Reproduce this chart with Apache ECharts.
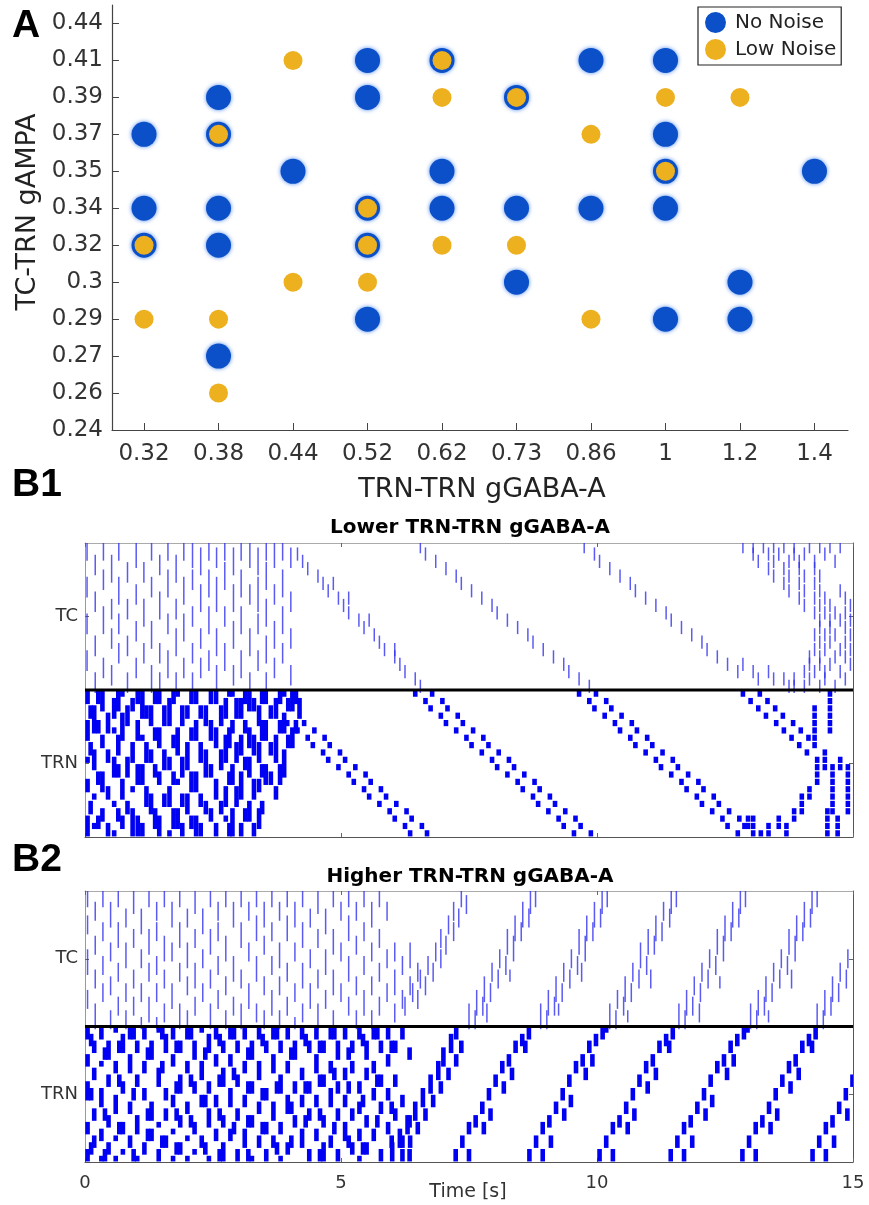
<!DOCTYPE html>
<html><head><meta charset="utf-8">
<script src="https://cdn.jsdelivr.net/npm/echarts@6/dist/echarts.min.js"></script>
<style>html,body{margin:0;padding:0;background:#fff;}#c{width:869px;height:1205px;}</style>
</head><body><div id="c"></div>
<script>
// ---------------- Panel A data ----------------
const gabaTicks = ['0.32','0.38','0.44','0.52','0.62','0.73','0.86','1','1.2','1.4'];
const ampaTicks = ['0.24','0.26','0.27','0.29','0.3','0.32','0.34','0.35','0.37','0.39','0.41','0.44'];
const noNoise = [
 ['0.32','0.37'],['0.32','0.34'],['0.32','0.32'],
 ['0.38','0.39'],['0.38','0.37'],['0.38','0.34'],['0.38','0.32'],['0.38','0.27'],
 ['0.44','0.35'],
 ['0.52','0.41'],['0.52','0.39'],['0.52','0.34'],['0.52','0.32'],['0.52','0.29'],
 ['0.62','0.41'],['0.62','0.35'],['0.62','0.34'],
 ['0.73','0.39'],['0.73','0.34'],['0.73','0.3'],
 ['0.86','0.41'],['0.86','0.34'],
 ['1','0.41'],['1','0.37'],['1','0.35'],['1','0.34'],['1','0.29'],
 ['1.2','0.3'],['1.2','0.29'],
 ['1.4','0.35']
];
const lowNoise = [
 ['0.44','0.41'],['0.62','0.41'],
 ['0.62','0.39'],['0.73','0.39'],['1','0.39'],['1.2','0.39'],
 ['0.38','0.37'],['0.86','0.37'],
 ['1','0.35'],
 ['0.52','0.34'],
 ['0.32','0.32'],['0.52','0.32'],['0.62','0.32'],['0.73','0.32'],
 ['0.44','0.3'],['0.52','0.3'],
 ['0.32','0.29'],['0.38','0.29'],['0.86','0.29'],
 ['0.38','0.26']
];
// ---------------- Raster data (time s, rows counted from top of each population) ----------------
const timeTicks = [0, 5, 10, 15];
const popTicks = [10, 30];
// B1 TC: dense columns [t, rowTop, rowBottom, ...]
const b1TcDense = [
 [0.04,0,1,5,6,10,11,15,16],[0.2,2,3,7,8,13,14,18,19],[0.36,0,1,4,5,9,11,16,17],[0.52,2,4,8,9,12,13,17,18],
 [0.66,0,1,5,7,10,11,14,15],[0.83,3,4,8,9,13,14,18,19],[1.0,0,2,6,7,11,12,16,17],[1.15,3,4,8,10,14,15],
 [1.3,0,1,5,6,11,13,17,19],[1.46,2,3,7,9,14,15,18,19],[1.62,0,1,4,6,10,11,15,17],[1.78,2,4,8,9,12,14,18,19],
 [1.93,0,1,5,7,10,12,16,17],[2.1,0,2,4,5,9,10,14,15,18,19],[2.26,1,3,6,8,12,13,16,17],[2.42,0,1,4,6,9,11,15,16],
 [2.57,1,2,5,8,12,14,17,19],[2.73,0,1,3,5,9,10,14,16],[2.9,1,3,6,8,11,13,17,18],[3.05,0,1,4,6,9,11,15,17],
 [3.22,0,2,6,7,12,14,18,19],[3.38,1,3,5,8,10,11,15,16],[3.54,0,1,3,5,8,10,13,15,18,19],[3.7,0,2,6,7,11,13,16,17],
 [3.86,0,1,4,6,9,11,14,15],[4.02,1,2,7,8,12,13,17,18]
];
// B1 TC: spike times per row (row 0 = top)
const b1TcRows = [
 [6.55,9.75,12.85,13.05,13.25,13.45,13.65,13.85,14.15,14.35,14.55,14.75],
 [4.15,6.65,9.95,13.05,13.35,13.55,13.85,14.05,14.45],
 [4.25,6.85,10.05,13.15,13.45,13.75,13.95,14.25,14.65],
 [4.35,7.05,10.25,13.35,13.65,13.95,14.25],
 [4.55,7.25,10.45,13.45,13.75,14.05,14.35],
 [4.65,4.85,7.35,10.65,13.65,13.95,14.25],
 [4.75,7.55,10.75,13.75,14.05,14.35,14.75],
 [4.95,5.15,7.75,10.95,13.95,14.25,14.45,14.85],
 [5.05,7.95,11.15,14.05,14.35,14.55,14.95],
 [5.15,8.05,11.35,14.25,14.45,14.65,14.85],
 [5.35,5.55,8.25,11.45,14.35,14.55,14.75,14.95],
 [5.45,8.45,11.65,14.35,14.55,14.85],
 [5.65,8.65,11.85,14.25,14.45,14.65,14.95],
 [5.75,8.75,12.05,14.35,14.55,14.85],
 [5.85,6.05,8.95,12.15,14.25,14.45,14.75,14.95],
 [6.05,9.15,12.35,14.15,14.35,14.65,14.85],
 [6.15,9.35,12.55,12.85,14.15,14.35,14.55,14.95],
 [6.25,9.45,12.75,13.05,13.35,14.05,14.25,14.45,14.75],
 [6.45,9.65,13.15,13.45,13.65,13.85,14.15,14.45,14.85],
 [6.55,9.85,13.75,13.85,14.05,14.35,14.65]
];
// B1 TRN: dense columns
const b1TrnDense = [
 [0.05,0,1,4,6,9,9,12,13,17,19],[0.18,2,5,8,10,14,14,18,18],[0.34,0,2,6,7,11,13,16,17],[0.57,1,3,5,5,9,11,15,15,19,19],
 [0.73,0,0,3,6,12,14,17,18],[0.93,1,2,7,9,13,13,16,19],[1.12,0,3,6,6,10,12,18,19],[1.29,2,4,8,9,14,16],
 [1.45,0,1,5,7,11,12,17,19],[1.65,1,4,9,10,13,15,19,19],[1.81,0,0,5,8,12,12,16,18],[2.0,2,3,7,10,14,16],
 [2.17,0,1,4,6,11,13,17,19],[2.36,2,4,8,11,15,16],[2.56,0,1,5,7,12,14,18,19],[2.75,1,3,6,9,13,15,17,17],
 [2.88,0,0,4,5,10,12,16,19],[3.05,1,3,6,8,11,14,18,19],[3.21,0,2,5,7,9,11,15,17],[3.4,2,4,7,9,12,13,16,18],
 [3.53,0,1,4,6,10,12],[3.73,1,3,6,9,13,14],[3.89,0,0,3,5,8,11],[4.05,0,2,5,7],[4.19,1,3],
 [0.11,2,3,7,8,15,16],[0.26,0,1,4,5,11,12,17,18],[0.45,3,5,8,9,13,14,18,19],[0.65,0,2,6,8,10,11,16,17],
 [0.83,2,4,9,11,15,16],[1.03,0,1,4,6,10,12,17,19],[1.2,2,3,7,9,13,15],[1.37,0,1,5,6,10,11,16,18],
 [1.55,2,4,8,10,14,15],[1.73,0,1,6,7,11,12,16,18],[1.9,2,4,9,11,14,15,18,19],[2.08,0,1,5,6,11,13,17,18],
 [2.26,2,3,7,9,14,15,18,19],[2.46,0,1,4,6,10,11,16,17],[2.66,2,4,8,10,15,16],[2.82,0,0,5,7,11,12,18,19],
 [2.96,1,3,7,9,13,15],[3.13,0,1,4,5,9,10,16,17],[3.3,1,2,6,8,12,14,18,19],[3.46,0,1,4,6,10,11,15,16],
 [3.63,2,3,7,8,11,12],[3.81,0,1,4,5,10,12],[3.97,1,2,6,7],[4.12,0,1,4,5]
];
// B1 TRN: burst times per row (row 0 = top)
const b1TrnRows = [
 [6.45,6.78,9.65,9.98,12.85,13.18,14.55],
 [6.65,6.98,9.85,10.18,13.0,13.33,14.55],
 [6.75,7.08,9.95,10.28,13.15,13.48,14.25,14.55],
 [6.95,7.28,10.15,10.48,13.3,13.63,14.25,14.55],
 [3.95,4.28,7.05,7.38,10.35,10.68,13.5,13.83,14.25,14.55],
 [4.15,4.48,7.25,7.58,10.45,10.78,13.65,13.98,14.25,14.55],
 [4.35,4.68,7.45,7.78,10.65,10.98,13.8,14.13,14.25],
 [4.45,4.78,7.55,7.88,10.75,11.08,13.95,14.25],
 [4.65,4.98,7.75,8.08,10.95,11.28,14.1,14.45],
 [4.75,5.08,7.95,8.28,11.15,11.48,14.3,14.45,14.75],
 [4.95,5.28,8.05,8.38,11.25,11.58,14.3,14.45,14.6,14.75,14.9],
 [5.15,5.48,8.25,8.58,11.45,11.78,14.3,14.6,14.9],
 [5.25,5.58,8.45,8.78,11.65,11.98,14.3,14.6,14.9],
 [5.45,5.78,8.55,8.88,11.75,12.08,14.15,14.6,14.9],
 [5.55,5.88,8.75,9.08,11.95,12.28,14.0,14.15,14.6,14.9],
 [5.75,6.08,8.85,9.18,12.05,12.38,14.0,14.6,14.9],
 [5.95,6.28,9.05,9.38,12.25,12.58,13.85,14.0,14.5,14.6,14.9],
 [6.05,6.38,9.25,9.58,12.45,12.78,12.95,13.05,13.55,13.85,14.5,14.7],
 [6.25,6.58,9.35,9.68,12.55,12.88,12.95,13.05,13.35,13.55,13.7,14.5,14.7],
 [6.35,6.68,9.55,9.88,12.75,13.05,13.2,13.35,13.7,14.5,14.7]
];
// B2 TC: dense columns
const b2TcDense = [
 [0.05,0,1,4,5,9,11,15,16],[0.2,2,3,7,8,12,13,17,19],[0.35,0,1,5,6,10,11,14,15],[0.5,2,4,8,9,13,14,18,19],
 [0.65,0,1,5,7,11,12,16,17],[0.8,3,4,8,10,14,15,18,19],[0.95,0,2,6,7,12,13,16,17],[1.1,3,5,9,10,14,15,19,19],
 [1.25,0,1,6,8,11,12,16,18],[1.4,2,3,5,6,10,11,14,15,19,19],[1.55,0,1,7,9,12,13,17,18],[1.7,2,4,8,9,14,16],
 [1.85,0,1,5,7,11,12,17,19],[2.0,3,4,8,10,13,14,18,19],[2.15,0,2,6,7,11,13,16,17],[2.3,3,5,9,10,14,15],
 [2.45,0,1,6,8,12,13,17,19],[2.6,2,3,5,6,10,11,15,16],[2.75,0,1,7,9,13,14,18,19],[2.9,2,4,10,12,16,17],
 [3.05,0,1,5,7,12,13,17,19],[3.2,2,3,8,9,14,16],[3.35,0,1,4,6,10,12,17,18],[3.5,2,4,7,8,13,14,18,19],
 [3.65,0,1,5,6,10,11,15,17],[3.8,2,3,8,10,13,14,18,19],[3.95,0,1,4,6,11,12,16,17],[4.1,2,4,8,9,14,15,19,19],
 [4.25,0,1,5,7,11,13,17,18],[4.4,3,4,9,10,14,16],[4.55,0,2,6,7,12,13,17,19],[4.7,3,5,9,11,15,16],
 [4.85,0,1,6,8,12,14,18,19],[5.0,2,3,8,9,14,15],[5.15,0,1,4,6,10,12,16,17],[5.3,2,3,7,8,13,14,18,19],
 [5.45,0,1,5,6,10,11,15,17],[5.6,2,4,8,9,13,14,18,19],[5.75,0,1,6,7,11,12,16,17],[5.9,2,3,9,10,14,15],
 [6.05,8,9,12,14,17,18],[6.2,10,11,15,16],[6.35,8,10,13,14],[6.5,11,12],
 [6.25,16,17],[6.4,14,15],[6.55,12,13],[6.7,10,11],[6.85,8,9],[6.95,6,7],[7.1,4,5],[7.2,2,3],[7.35,0,1],
 [6.5,15,16],[6.65,13,14],[6.8,11,12],[6.95,9,10],[7.05,7,8],[7.2,5,6],[7.3,3,4],[7.45,1,2]
];
// B2 TC: travelling waves [t, rowTop, rowBottom]
const b2TcWaves = [
 [7.5,17,19],[7.65,15,17],[7.8,13,15],[7.95,11,12],[8.1,9,10],[8.25,6,8],[8.4,4,6],[8.55,2,4],[8.7,0,2],
 [7.62,18,19],[7.77,16,17],[7.92,14,15],[8.07,12,13],[8.22,10,11],[8.37,7,9],[8.52,5,6],[8.67,3,4],[8.8,0,1],
 [8.9,17,19],[9.05,15,17],[9.2,13,15],[9.35,11,12],[9.5,9,10],[9.65,6,8],[9.8,4,6],[9.95,2,4],[10.1,0,2],
 [9.02,18,19],[9.17,16,17],[9.32,14,15],[9.47,12,13],[9.62,10,11],[9.77,7,9],[9.92,5,6],[10.07,3,4],[10.2,0,1],
 [10.25,17,19],[10.4,15,16],[10.55,13,15],[10.7,11,12],[10.85,8,10],[11.0,6,8],[11.15,4,6],[11.3,2,3],[11.45,0,2],
 [10.37,18,19],[10.52,16,17],[10.67,14,15],[10.82,12,13],[10.97,10,11],[11.12,7,8],[11.27,5,6],[11.42,3,4],[11.55,0,1],
 [11.6,17,19],[11.75,15,17],[11.9,13,14],[12.05,11,12],[12.2,9,10],[12.35,6,8],[12.5,4,6],[12.65,2,4],[12.8,0,2],
 [11.72,18,19],[11.87,16,17],[12.02,14,15],[12.17,12,13],[12.32,10,11],[12.47,7,9],[12.62,5,6],[12.77,3,4],[12.9,0,1],
 [13.0,17,19],[13.15,15,17],[13.3,13,15],[13.45,11,12],[13.6,9,10],[13.75,6,8],[13.9,4,6],[14.05,2,4],[14.2,0,2],
 [13.12,18,19],[13.27,16,17],[13.42,14,15],[13.57,12,13],[13.72,10,11],[13.87,7,9],[14.02,5,6],[14.17,3,4],[14.3,0,1],
 [14.3,17,19],[14.45,15,17],[14.6,13,15],[14.75,11,12],[14.9,9,10],[14.42,18,19],[14.57,16,17],[14.72,14,15],[14.87,12,13],
 [7.85,17,18],[8.3,12,12],[9.25,17,17],[9.7,11,12],[10.6,18,18],[11.05,12,13],[12.0,17,18],[12.4,13,13],[13.35,18,18],[13.8,12,13]
];
// B2 TRN: dense columns
const b2TrnDense = [
 [0.05,0,1,4,5,8,10,14,15,18,19],[0.18,2,3,6,7,12,13,16,17],[0.32,0,1,5,5,9,11,15,16,19,19],[0.46,2,4,7,8,13,14,17,18],
 [0.6,0,0,5,6,10,12,16,16,19,19],[0.74,1,3,8,9,14,15,18,18],[0.88,0,1,4,6,11,12,16,17],[1.02,2,3,7,8,13,15,19,19],
 [1.16,0,1,5,6,9,10,17,18],[1.3,2,4,11,13,15,16],[1.44,0,0,6,8,14,14,18,19],[1.58,1,3,9,10,12,13,16,17],
 [1.72,0,1,4,5,10,11,15,15,19,19],[1.86,2,3,7,9,13,14,17,18],[2.0,0,1,5,6,11,12,16,16,19,19],[2.14,2,4,8,9,14,15,18,18],
 [2.28,0,0,5,7,10,11,16,17],[2.42,1,3,8,9,12,14,19,19],[2.56,0,1,4,5,10,11,15,16],[2.7,2,3,6,8,13,14,17,19],
 [2.84,0,1,4,5,9,11,15,16],[2.98,2,3,7,8,12,13,18,19],[3.12,0,1,5,6,10,11,15,17],[3.26,2,4,8,9,13,14,19,19],
 [3.4,0,1,5,7,11,12,16,17],[3.54,2,3,9,10,14,15,18,19],[3.68,0,1,4,6,11,13,16,17],[3.82,2,3,7,9,14,15,19,19],
 [3.96,0,1,5,6,10,12,17,18],[4.1,2,4,8,9,13,14],[4.24,0,1,6,7,10,11,15,17],[4.38,2,3,8,9,12,13,18,19],
 [4.52,0,1,4,6,10,11,15,16],[4.66,2,3,7,8,13,14,17,19],[4.8,0,1,5,6,9,11,16,17],[4.94,2,4,8,9,12,13,18,19],
 [5.08,0,1,6,7,10,11,14,16],[5.22,2,3,5,6,12,13,17,18],[5.36,0,1,8,9,11,12,15,16,19,19],[5.5,2,4,6,7,13,14,17,18],
 [5.64,0,1,5,6,9,10,15,16],[5.78,2,3,7,8,11,12,18,19],[5.92,0,1,4,5,9,10,14,15],[6.06,2,3,7,8,12,13],
 [6.2,0,1,10,11,16,17],[6.34,3,4,13,14,18,19],
 [0.12,1,2,9,10,17,18],[0.39,3,4,12,13,18,19],[0.67,2,3,7,8,14,15],[0.95,0,1,9,10,18,19],[1.23,3,4,12,13,15,16],
 [1.51,0,1,5,6,16,17],[1.79,2,3,8,9,12,13,17,18],[2.07,0,1,7,8,13,14],[2.35,3,4,10,11,17,18],[2.63,1,2,7,8,12,13,18,19],
 [2.91,0,1,6,7,14,15],[3.19,3,4,8,9,13,14,18,19],[3.47,1,2,9,10,14,15],[3.75,0,1,8,9,17,18],[4.03,3,4,11,12,16,17],
 [4.31,1,2,8,9,13,14],[4.59,2,3,7,8,12,13,18,19],[4.87,0,1,6,7,14,15],[5.15,3,4,8,9,16,17],[5.43,1,2,10,11,17,18],
 [5.71,0,1,7,8,13,14],[5.99,2,3,11,12,16,17],
 [6.0,17,19],[6.15,15,17],[6.3,13,15],[6.45,11,13],[6.6,9,11],[6.75,7,9],[6.9,5,7],[7.0,3,5],[7.15,1,3],[7.25,0,1],
 [6.2,18,19],[6.35,16,17],[6.5,14,15],[6.65,12,13],[6.8,10,11],[6.95,8,9],[7.1,6,7],[7.25,4,5],[7.35,2,3]
];
// B2 TRN: travelling waves
const b2TrnWaves = [
 [7.24,18,19],[7.37,16,17],[7.5,14,15],[7.63,13,14],[7.76,11,12],[7.89,9,10],[8.02,7,8],[8.15,5,6],[8.28,4,5],[8.41,2,3],[8.54,1,2],[8.67,0,1],
 [7.5,18,19],[7.79,14,15],[7.92,12,13],[8.18,8,9],[8.34,6,7],[8.6,2,3],
 [8.68,18,19],[8.81,16,17],[8.94,14,15],[9.07,13,14],[9.2,11,12],[9.33,9,10],[9.46,7,8],[9.59,5,6],[9.72,4,5],[9.85,2,3],[9.98,1,2],[10.11,0,1],
 [8.94,18,19],[9.1,16,17],[9.36,12,13],[9.49,10,11],[9.78,6,7],[9.91,4,5],[10.18,0,0],
 [10.05,18,19],[10.18,16,17],[10.31,14,15],[10.44,13,14],[10.57,11,12],[10.7,9,10],[10.83,7,8],[10.96,5,6],[11.09,4,5],[11.22,2,3],[11.35,1,2],[11.48,0,1],
 [10.31,18,19],[10.6,14,15],[10.73,12,13],[10.99,8,9],[11.15,6,7],[11.41,2,3],
 [11.44,18,19],[11.57,16,17],[11.7,14,15],[11.83,13,14],[11.96,11,12],[12.09,9,10],[12.22,7,8],[12.35,5,6],[12.48,4,5],[12.61,2,3],[12.74,1,2],[12.87,0,1],
 [11.7,18,19],[11.86,16,17],[12.12,12,13],[12.25,10,11],[12.54,6,7],[12.67,4,5],[12.94,0,0],
 [12.84,18,19],[12.97,16,17],[13.1,14,15],[13.23,13,14],[13.36,11,12],[13.49,9,10],[13.62,7,8],[13.75,5,6],[13.88,4,5],[14.01,2,3],[14.14,1,2],[14.27,0,1],
 [13.1,18,19],[13.39,14,15],[13.52,12,13],[13.78,8,9],[13.94,6,7],[14.2,2,3],
 [14.21,18,19],[14.34,16,17],[14.47,14,15],[14.6,13,14],[14.73,11,12],[14.86,9,10],[14.99,7,8],
 [14.47,18,19],[14.63,16,17],[14.89,12,13]
];

// ---------------- helpers ----------------
function expandCols(cols){const out=[];cols.forEach(c=>{for(let i=1;i<c.length;i+=2)out.push([c[0],c[i],c[i+1]]);});return out;}
function expandRows(rows){const out=[];rows.forEach((ts,v)=>ts.forEach(t=>out.push([t,v,v])));return out;}
const F='DejaVu Sans';
function raster(axisIdx, events, base, kind){
  return {type:'custom',xAxisIndex:axisIdx,yAxisIndex:axisIdx,clip:true,silent:true,animation:false,z:3,
    data:events,
    renderItem:function(params,api){
      const t=api.value(0),a=api.value(1),b=api.value(2);
      const p1=api.coord([t,base-a]);const p2=api.coord([t,base-b-1]);
      const rowH=(p2[1]-p1[1])/(b-a+1);
      if(kind==='tc'){
        return {type:'rect',shape:{x:p1[0]-0.75,y:p1[1]-0.4*rowH,width:1.5,height:p2[1]-p1[1]+0.8*rowH},style:{fill:'rgba(50,50,240,0.8)'}};
      }
      return {type:'rect',shape:{x:p1[0]-2.3,y:p1[1]+0.08*rowH,width:4.6,height:p2[1]-p1[1]-0.16*rowH},style:{fill:'#0000f2'}};
    }};
}
function sepLine(axisIdx){return {type:'line',xAxisIndex:axisIdx,yAxisIndex:axisIdx,data:[[timeTicks[0],20],[timeTicks[3],20]],symbol:'none',silent:true,lineStyle:{color:'#000',width:3},z:6,animation:false};}
const gabaIdx=gabaTicks.map((_,i)=>i), ampaIdx=ampaTicks.map((_,i)=>i);
function bX(grid,pos,showLabels){
  return {gridIndex:grid,type:'value',min:timeTicks[0],max:timeTicks[3],interval:5,position:pos,
    axisLine:{show:true,onZero:false,lineStyle:{color:pos==='bottom'?'#555':'#aaa',width:1}},
    axisTick:{show:true,inside:true,length:4,lineStyle:{color:'#666'}},
    axisLabel:{show:showLabels,fontFamily:F,fontSize:18,color:'#333',margin:12},
    splitLine:{show:false}};
}
function bY(grid,pos){
  return {gridIndex:grid,type:'value',min:0,max:40,position:pos,
    axisLine:{show:true,onZero:false,lineStyle:{color:pos==='left'?'#999':'#555',width:1}},
    axisTick:{show:true,inside:true,length:4,customValues:popTicks,lineStyle:{color:'#666'}},
    axisLabel:{show:pos==='left',customValues:popTicks,formatter:v=>v===30?'TC':'TRN',fontFamily:F,fontSize:18,color:'#333',margin:7},
    splitLine:{show:false}};
}
const chart=echarts.init(document.getElementById('c'));
chart.setOption({
  animation:false,
  backgroundColor:'#fff',
  grid:[
    {left:112,top:5,width:736,height:425},
    {left:85,top:543,width:768,height:294},
    {left:85,top:891,width:768,height:271}
  ],
  legend:{data:['No Noise','Low Noise'],orient:'vertical',left:698,top:7,icon:'circle',itemWidth:21,itemHeight:21,itemGap:6,
    padding:[5,5,5,7],borderColor:'#222',borderWidth:1.2,backgroundColor:'#fff',
    textStyle:{fontFamily:F,fontSize:20,color:'#222',padding:[0,0,0,4]}},
  xAxis:[
    {gridIndex:0,type:'value',min:-0.43,max:9.45,
      axisLine:{show:true,onZero:false,lineStyle:{color:'#444',width:1.2}},
      axisTick:{show:true,inside:true,length:7,customValues:gabaIdx,lineStyle:{color:'#444'}},
      axisLabel:{customValues:gabaIdx,formatter:v=>gabaTicks[Math.round(v)],fontFamily:F,fontSize:23,color:'#333',margin:13},
      splitLine:{show:false}},
    bX(1,'bottom',false),bX(1,'top',false),bX(2,'bottom',true),bX(2,'top',false)
  ],
  yAxis:[
    {gridIndex:0,type:'value',min:0,max:11.5,
      axisLine:{show:true,onZero:false,lineStyle:{color:'#444',width:1.2}},
      axisTick:{show:true,inside:true,length:7,customValues:ampaIdx,lineStyle:{color:'#444'}},
      axisLabel:{customValues:ampaIdx,formatter:v=>ampaTicks[Math.round(v)],fontFamily:F,fontSize:23,color:'#333',margin:9},
      splitLine:{show:false}},
    bY(1,'left'),bY(1,'right'),bY(2,'left'),bY(2,'right')
  ],
  series:[
    {type:'scatter',name:'No Noise',xAxisIndex:0,yAxisIndex:0,symbolSize:25,z:2,
      data:noNoise.map(p=>[gabaTicks.indexOf(p[0]),ampaTicks.indexOf(p[1])]),
      itemStyle:{color:'#0b50c8',opacity:1,shadowBlur:4,shadowColor:'rgba(40,110,235,0.8)'}},
    {type:'scatter',name:'Low Noise',xAxisIndex:0,yAxisIndex:0,symbolSize:19,z:3,
      data:lowNoise.map(p=>[gabaTicks.indexOf(p[0]),ampaTicks.indexOf(p[1])]),
      itemStyle:{color:'#EDB120',opacity:1}},
    raster(1,expandCols(b1TcDense).concat(expandRows(b1TcRows)),40,'tc'),
    raster(1,expandCols(b1TrnDense).concat(expandRows(b1TrnRows)),20,'trn'),
    sepLine(1),
    raster(3,expandCols(b2TcDense).concat(b2TcWaves),40,'tc'),
    raster(3,expandCols(b2TrnDense).concat(b2TrnWaves),20,'trn'),
    sepLine(3)
  ],
  graphic:[
    {type:'text',left:12,top:7,style:{text:'A',fontFamily:'Liberation Sans',fontWeight:'bold',fontSize:39,fill:'#000'}},
    {type:'text',left:12,top:466,style:{text:'B1',fontFamily:'Liberation Sans',fontWeight:'bold',fontSize:39,fill:'#000'}},
    {type:'text',left:12,top:841,style:{text:'B2',fontFamily:'Liberation Sans',fontWeight:'bold',fontSize:39,fill:'#000'}},
    {type:'text',x:28,y:212,rotation:Math.PI/2,style:{text:'TC-TRN gAMPA',fontFamily:F,fontSize:27,fill:'#222',align:'center',verticalAlign:'middle',textAlign:'center',textVerticalAlign:'middle'}},
    {type:'text',x:482,y:490,style:{text:'TRN-TRN gGABA-A',fontFamily:F,fontSize:27,fill:'#222',align:'center',verticalAlign:'middle',textAlign:'center',textVerticalAlign:'middle'}},
    {type:'text',x:470,y:528,style:{text:'Lower TRN-TRN gGABA-A',fontFamily:F,fontWeight:'bold',fontSize:20,fill:'#000',align:'center',verticalAlign:'middle',textAlign:'center',textVerticalAlign:'middle'}},
    {type:'text',x:470,y:877,style:{text:'Higher TRN-TRN gGABA-A',fontFamily:F,fontWeight:'bold',fontSize:20,fill:'#000',align:'center',verticalAlign:'middle',textAlign:'center',textVerticalAlign:'middle'}},
    {type:'text',x:468,y:1192,style:{text:'Time [s]',fontFamily:F,fontSize:19,fill:'#333',align:'center',verticalAlign:'middle',textAlign:'center',textVerticalAlign:'middle'}}
  ]
});
</script></body></html>
